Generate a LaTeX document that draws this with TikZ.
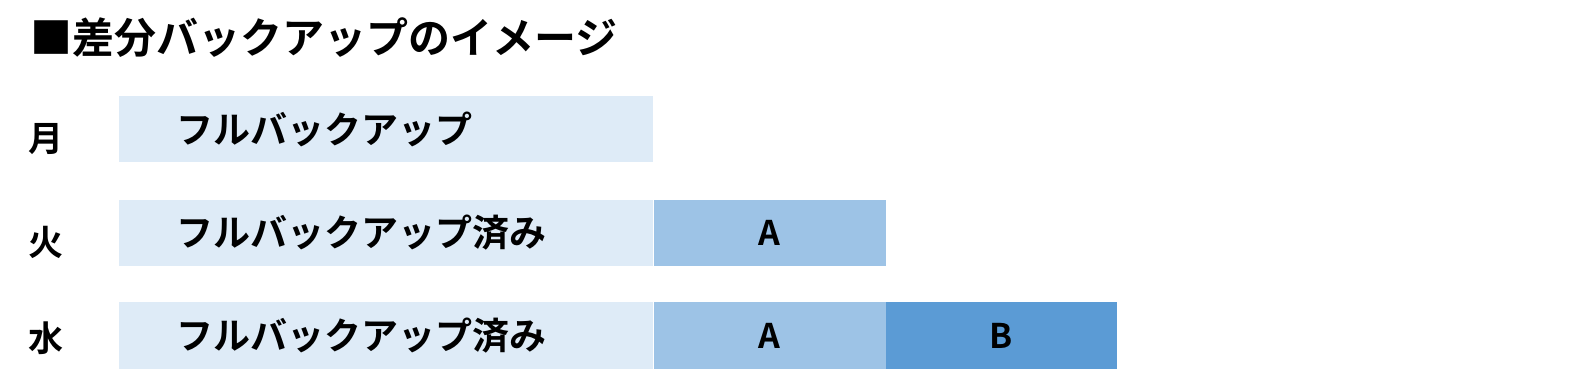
\documentclass[tikz,border=0pt]{standalone}
\usepackage{fontspec}
\setmainfont{Noto Sans CJK JP}[BoldFont=* Bold]
\definecolor{cfull}{HTML}{DEEBF7}
\definecolor{ca}{HTML}{9DC3E6}
\definecolor{cb}{HTML}{5B9BD5}
\tikzset{
  bar/.style={rectangle, inner sep=0pt, anchor=north west, minimum height=65.5pt},
  fullbar/.style={bar, fill=cfull, minimum width=534pt},
  abar/.style={bar, fill=ca, minimum width=232pt, font=\fontsize{34}{40}\selectfont\bfseries},
  bbar/.style={bar, fill=cb, minimum width=231pt, font=\fontsize{34}{40}\selectfont\bfseries},
  bartext/.style={anchor=west, inner sep=0pt, font=\fontsize{37}{42}\selectfont\bfseries},
  daylabel/.style={anchor=center, inner sep=0pt, font=\fontsize{35}{40}\selectfont\bfseries},
}
\begin{document}
\begin{tikzpicture}[x=1pt,y=-1pt]
\useasboundingbox (0,0) rectangle (1581,382);
\node[anchor=west, inner sep=0pt, font=\fontsize{42}{48}\selectfont\bfseries] (title) at (30,38) {■差分バックアップのイメージ};
% Monday
\node[daylabel] (mon) at (46,139) {月};
\node[fullbar] (f1) at (119,96) {};
\node[bartext] (f1t) at ([xshift=57pt]f1.west) {フルバックアップ};
% Tuesday
\node[daylabel] (tue) at (46,242) {火};
\node[fullbar] (f2) at (119,200) {};
\node[bartext] (f2t) at ([xshift=57pt]f2.west) {フルバックアップ済み};
\node[abar] (a2) at (f2.north east) {A};
% Wednesday
\node[daylabel] (wed) at (46,338) {水};
\node[fullbar, minimum height=67pt] (f3) at (119,302) {};
\node[bartext] (f3t) at ([xshift=57pt]f3.west) {フルバックアップ済み};
\node[abar, minimum height=67pt] (a3) at (f3.north east) {A};
\node[bbar, minimum height=67pt] (b3) at (a3.north east) {B};
\end{tikzpicture}
\end{document}
